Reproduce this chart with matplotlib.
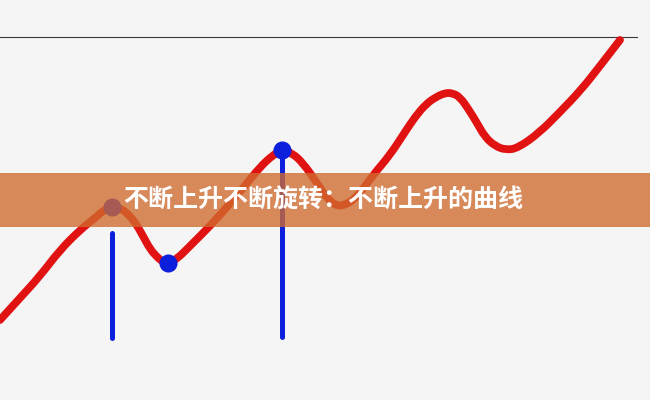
import matplotlib
matplotlib.use('Agg')
import matplotlib.pyplot as plt
from matplotlib.path import Path
from matplotlib.patches import PathPatch

# curve (pixel coords, y downwards)
curve_x = [0, 20, 40, 60, 80, 95, 104, 112, 120, 127, 135, 143, 150, 157, 163, 168,
           176, 193, 210, 227, 244, 260, 273, 282, 292, 303, 317, 326, 336, 346, 358,
           373, 390, 405, 415, 426, 436, 445, 452, 460, 469, 477, 485, 495, 506, 518,
           539, 560, 581, 600, 620]
curve_y = [320, 298, 276, 250, 230, 218, 210, 207, 208, 213, 222, 236, 249, 257, 262, 263,
           260, 243, 226, 207, 187, 167, 155, 150, 153, 163, 183, 197, 206, 205, 196,
           175, 155, 132, 117, 104, 97, 93, 93, 97, 110, 123, 137, 146, 150, 148,
           133, 112, 90, 66, 40]

# blue markers and vertical bars
dot_x = [112, 168, 282]
dot_y = [207, 263, 150]
bar_x = [112, 282]
bar_top = [233, 158]
bar_bottom = [338, 337]

title = '不断上升不断旋转：不断上升的曲线'

fig = plt.figure(figsize=(6.5, 4), dpi=100, facecolor='#f5f5f5')
ax = fig.add_axes([0, 0, 1, 1])
ax.set_facecolor('#f5f5f5')
ax.set_xlim(0, 650)
ax.set_ylim(400, 0)
ax.axis('off')

# thin rule at the top
ax.plot([0, 637], [37, 37], color='#3a3a3a', lw=0.8, zorder=1)

# smooth the read points with quadratic bezier segments (points act as controls)
pts = list(zip(curve_x, curve_y))
verts = [pts[0]]
codes = [Path.MOVETO]
for i in range(1, len(pts) - 1):
    nxt = pts[i + 1] if i + 1 == len(pts) - 1 else ((pts[i][0] + pts[i + 1][0]) / 2,
                                                    (pts[i][1] + pts[i + 1][1]) / 2)
    verts += [pts[i], nxt]
    codes += [Path.CURVE3, Path.CURVE3]
ax.add_patch(PathPatch(Path(verts, codes), fill=False, edgecolor='#e01212', lw=5.6,
                       capstyle='round', joinstyle='round', zorder=2))

ax.vlines(bar_x, bar_top, bar_bottom, color='#0b1fdc', lw=3.6, zorder=3, capstyle='round')
ax.plot(dot_x, dot_y, 'o', color='#0b1fdc', ms=12, zorder=4)

# banner with caption
ax.axhspan(173, 227, color='#d16b2e', alpha=0.78, lw=0, zorder=5)
ax.text(323, 200, title, color='white', fontsize=18, fontweight='bold',
        family=['Noto Sans CJK SC', 'DejaVu Sans'], ha='center', va='center', zorder=6)

fig.savefig('out.png', dpi=100, facecolor='#f5f5f5')
